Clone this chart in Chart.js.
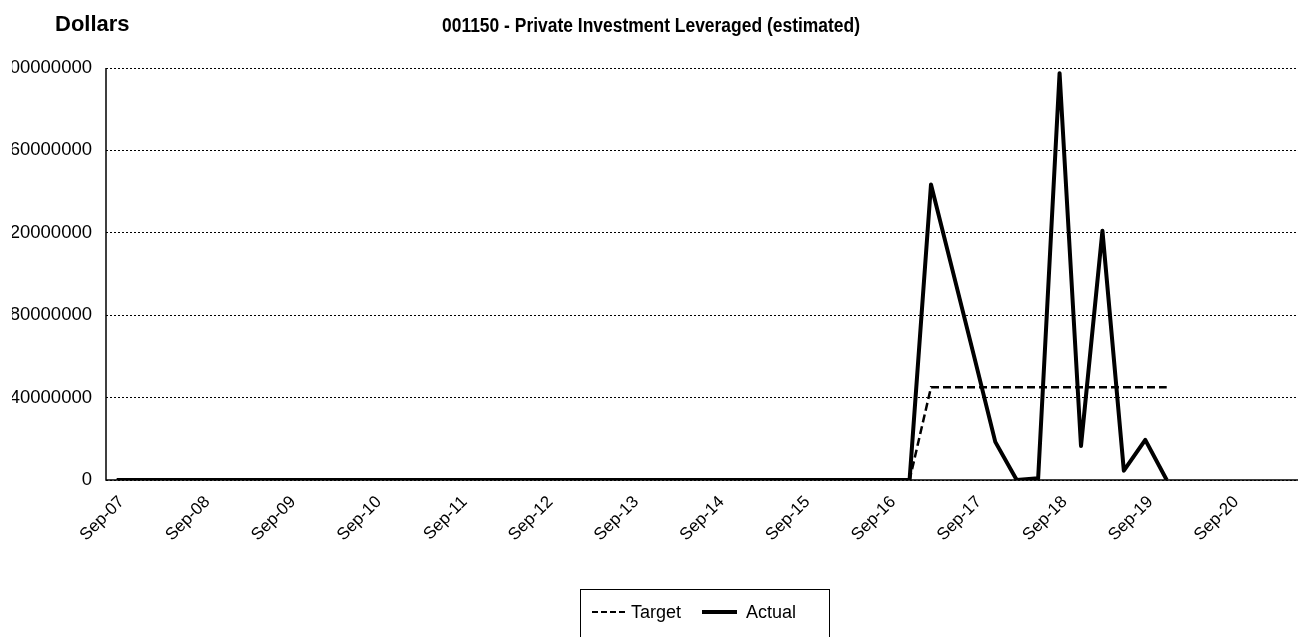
<!DOCTYPE html>
<html>
<head>
<meta charset="utf-8">
<script src="https://cdn.jsdelivr.net/npm/chart.js@4.4.1/dist/chart.umd.min.js"></script>
<style>
  html, body { margin: 0; padding: 0; background: #fff; overflow: hidden; }
  #wrap { position: absolute; left: 0; top: 0; width: 1306px; height: 637px; }
</style>
</head>
<body>
<div id="wrap"><canvas id="c" width="1306" height="637"></canvas></div>
<script>
// ---- data ----
const chartTitle = '001150 - Private Investment Leveraged (estimated)';
const yAxisLabel = 'Dollars';
const categories = [
  'Sep-07','Dec-07',
  'Mar-08','Jun-08','Sep-08','Dec-08',
  'Mar-09','Jun-09','Sep-09','Dec-09',
  'Mar-10','Jun-10','Sep-10','Dec-10',
  'Mar-11','Jun-11','Sep-11','Dec-11',
  'Mar-12','Jun-12','Sep-12','Dec-12',
  'Mar-13','Jun-13','Sep-13','Dec-13',
  'Mar-14','Jun-14','Sep-14','Dec-14',
  'Mar-15','Jun-15','Sep-15','Dec-15',
  'Mar-16','Jun-16','Sep-16','Dec-16',
  'Mar-17','Jun-17','Sep-17','Dec-17',
  'Mar-18','Jun-18','Sep-18','Dec-18',
  'Mar-19','Jun-19','Sep-19','Dec-19',
  'Mar-20','Jun-20','Sep-20','Dec-20',
  'Mar-21','Jun-21'
];
const targetValues = [
  0,0,0,0,0,0,0,0,0,0,
  0,0,0,0,0,0,0,0,0,0,
  0,0,0,0,0,0,0,0,0,0,
  0,0,0,0,0,0,0,0,
  45000000,45000000,45000000,45000000,45000000,45000000,
  45000000,45000000,45000000,45000000,45000000,45000000
];
const actualValues = [
  0,0,0,0,0,0,0,0,0,0,
  0,0,0,0,0,0,0,0,0,0,
  0,0,0,0,0,0,0,0,0,0,
  0,0,0,0,0,0,0,0,
  143500000,102000000,60500000,18500000,0,800000,
  197500000,16500000,121000000,4500000,19500000,0
];
const yTickValues = [0, 40000000, 80000000, 120000000, 160000000, 200000000];
const seriesNames = ['Target', 'Actual'];

// ---- plugins ----
const FONT = '"Liberation Sans", Arial, sans-serif';

const decor = {
  id: 'decor',
  beforeDraw(chart) {
    // the original chart frame cuts off everything left of x = 12
    const ctx = chart.ctx;
    ctx.save();
    ctx.beginPath();
    ctx.rect(12, 0, chart.width, chart.height);
    ctx.clip();
  },
  beforeDatasetsDraw(chart) {
    const {ctx, chartArea: a} = chart;
    ctx.save();
    ctx.strokeStyle = '#000';
    ctx.lineWidth = 1.5;
    ctx.setLineDash([]);
    ctx.beginPath();
    ctx.moveTo(a.left, a.top);
    ctx.lineTo(a.left, a.bottom);
    ctx.lineTo(a.right, a.bottom);
    ctx.stroke();
    ctx.restore();
  },
  afterDraw(chart) {
    const ctx = chart.ctx;
    ctx.restore(); // end frame clip
    ctx.save();
    ctx.fillStyle = '#000';
    ctx.textBaseline = 'alphabetic';
    // title
    ctx.font = 'bold 20px ' + FONT;
    ctx.textAlign = 'center';
    ctx.fillText(chartTitle, 651, 32, 418);
    // unit label
    ctx.font = 'bold 22px ' + FONT;
    ctx.textAlign = 'left';
    ctx.fillText(yAxisLabel, 55, 31);

    // legend box
    const bx = 580, by = 589, bw = 249, bh = 60;
    ctx.strokeStyle = '#000';
    ctx.lineWidth = 1;
    ctx.strokeRect(bx + 0.5, by + 0.5, bw, bh);
    const ly = 612;
    const items = [
      {x0: 592, x1: 627, tx: 631},
      {x0: 702, x1: 737, tx: 746}
    ];
    chart.data.datasets.forEach((ds, i) => {
      const it = items[i];
      ctx.beginPath();
      ctx.strokeStyle = ds.borderColor;
      ctx.lineWidth = ds.borderDash ? 2 : ds.borderWidth;
      ctx.setLineDash(ds.borderDash ? [6, 3] : []);
      ctx.moveTo(it.x0, ly);
      ctx.lineTo(it.x1, ly);
      ctx.stroke();
      ctx.setLineDash([]);
      ctx.font = '18px ' + FONT;
      ctx.textBaseline = 'middle';
      ctx.fillStyle = '#000';
      ctx.fillText(ds.label, it.tx, ly + 1);
    });
    ctx.restore();
  }
};

new Chart(document.getElementById('c'), {
  type: 'line',
  data: {
    labels: categories,
    datasets: [
      {
        label: seriesNames[0],
        data: targetValues,
        borderColor: '#000',
        backgroundColor: '#000',
        borderWidth: 2.5,
        borderDash: [8, 4],
        pointRadius: 0,
        tension: 0,
        fill: false
      },
      {
        label: seriesNames[1],
        data: actualValues,
        borderColor: '#000',
        backgroundColor: '#000',
        borderWidth: 4,
        pointRadius: 0,
        tension: 0,
        fill: false,
        borderJoinStyle: 'round'
      }
    ]
  },
  options: {
    responsive: false,
    animation: false,
    events: [],
    layout: { padding: { top: 68, left: 0, right: 0, bottom: 0 } },
    plugins: {
      legend: { display: false },
      title: { display: false },
      tooltip: { enabled: false }
    },
    scales: {
      x: {
        type: 'category',
        offset: true,
        grid: { display: false, drawTicks: false },
        border: { display: false },
        ticks: {
          autoSkip: false,
          minRotation: 45,
          maxRotation: 45,
          padding: 12,
          labelOffset: 5,
          color: '#000',
          font: { family: FONT, size: 17 },
          callback(value) {
            const l = this.getLabelForValue(value);
            return l.startsWith('Sep') ? l : '';
          }
        },
        afterFit(scale) {
          scale.height = 157;
          scale.paddingLeft = 0;
          scale.paddingRight = 0;
        }
      },
      y: {
        min: 0,
        max: 200000000,
        afterBuildTicks(scale) {
          scale.ticks = yTickValues.map(v => ({value: v}));
        },
        grid: {
          display: true,
          drawTicks: false,
          color: '#000',
          lineWidth: 1
        },
        border: { display: false, dash: [2, 2] },
        ticks: {
          padding: 14,
          color: '#000',
          font: { family: FONT, size: 18.5 },
          callback(value) { return String(value); }
        },
        afterFit(scale) {
          scale.width = 106;
        }
      }
    }
  },
  plugins: [decor]
});
</script>
</body>
</html>
